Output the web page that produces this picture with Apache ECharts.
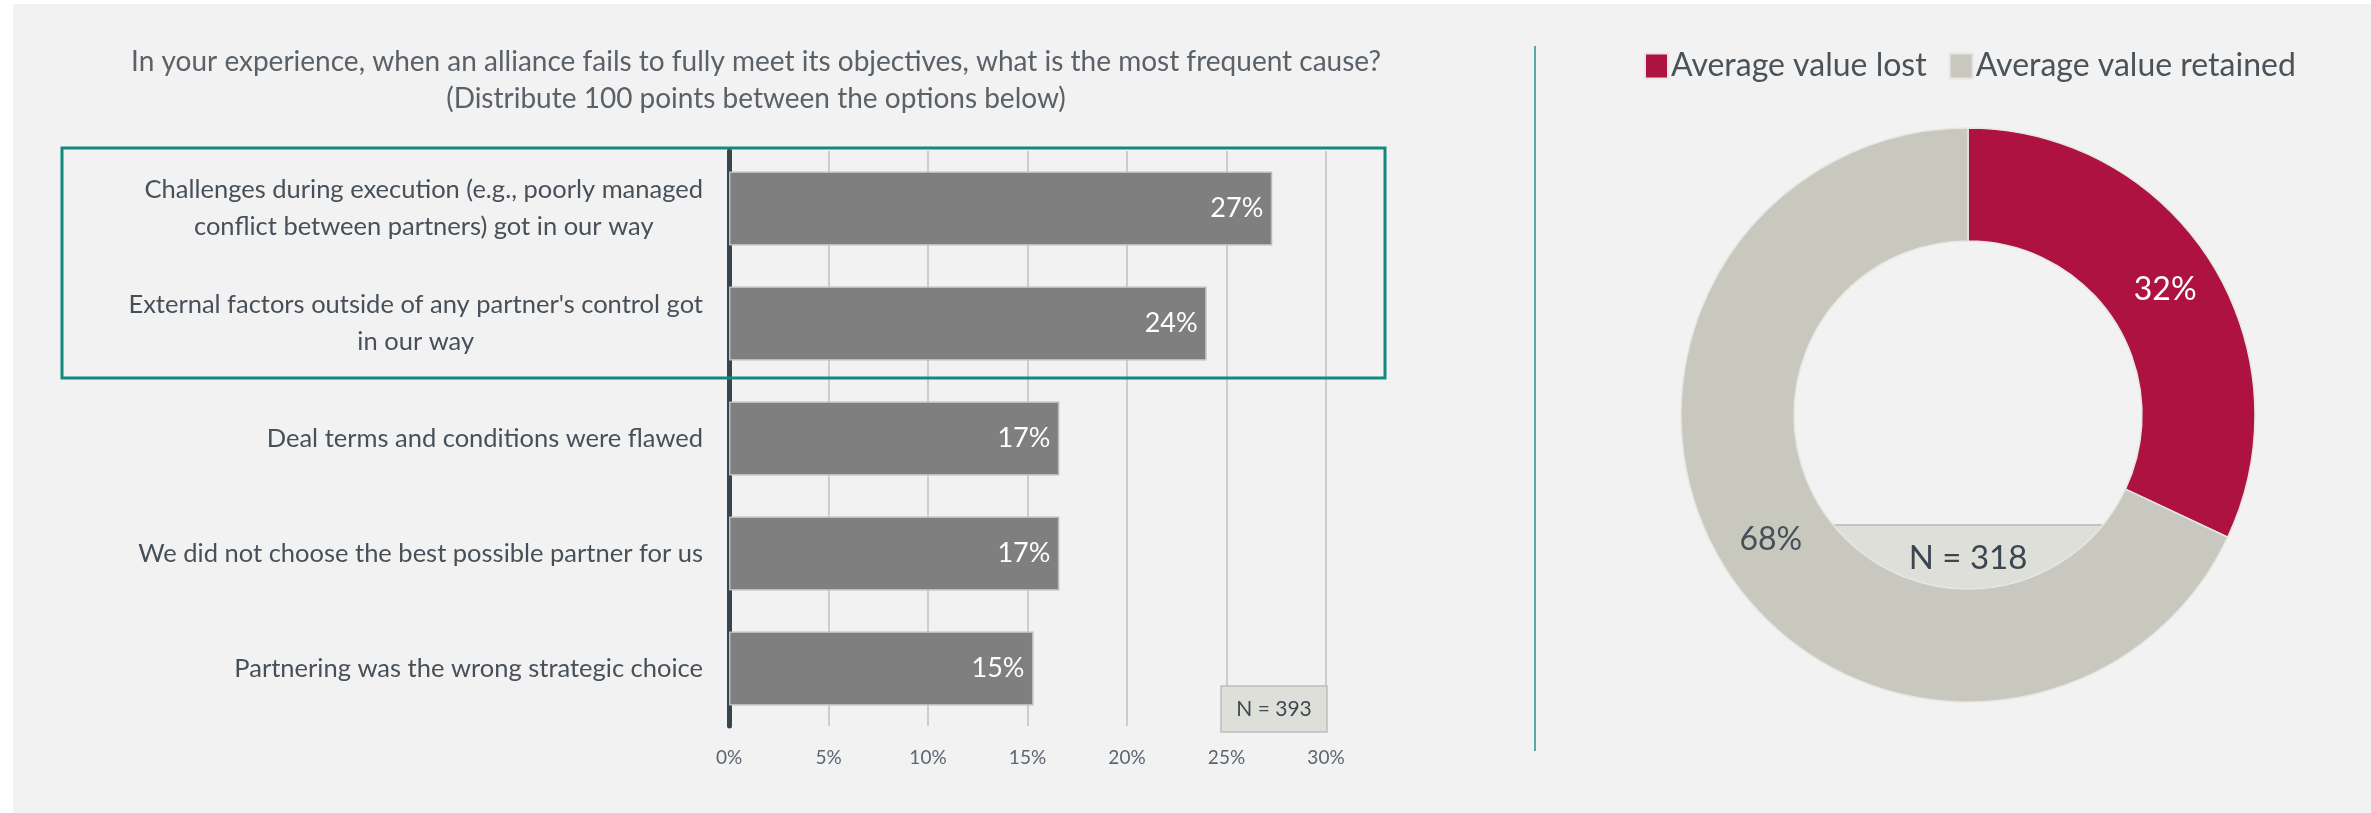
<!DOCTYPE html>
<html>
<head>
<meta charset="utf-8">
<script src="https://cdn.jsdelivr.net/npm/echarts@6/dist/echarts.min.js"></script>
<style>
  html, body { margin: 0; padding: 0; background: #ffffff; }
  #chart { width: 2371px; height: 813px; }
</style>
</head>
<body>
<div id="chart"></div>
<script>
// ---- data ----
const titleLines = [
  'In your experience, when an alliance fails to fully meet its objectives, what is the most frequent cause?',
  '(Distribute 100 points between the options below)'
];
const causes = [
  'Challenges during execution (e.g., poorly managed\nconflict between partners) got in our way',
  "External factors outside of any partner's control got\nin our way",
  'Deal terms and conditions were flawed',
  'We did not choose the best possible partner for us',
  'Partnering was the wrong strategic choice'
];
const causeShares = [27.3, 24.0, 16.6, 16.6, 15.3];
const barSampleLabel = 'N = 393';
const xTicks = { min: 0, max: 30, interval: 5 };

const valueNames = ['Average value lost', 'Average value retained'];
const valueShares = [32, 68];
const donutSampleLabel = 'N = 318';

// ---- style ----
const FONT = 'Lato, "Noto Sans", sans-serif';
const RED = '#ae1240';
const GREY = '#c8c8bf';
const TEAL = '#0f8a7c';

const chart = echarts.init(document.getElementById('chart'), null, { renderer: 'canvas' });

const option = {
  backgroundColor: '#f2f2f2',
  animation: false,
  textStyle: { fontFamily: FONT },
  title: {
    text: titleLines.join('\n'),
    left: 751,
    top: 38,
    textAlign: 'center',
    textStyle: { fontFamily: FONT, fontSize: 28, lineHeight: 37, color: '#5a6168', fontWeight: 'normal' }
  },
  legend: {
    data: valueNames,
    left: 1639,
    top: 45,
    itemWidth: 23,
    itemHeight: 25,
    itemGap: 22,
    icon: 'rect',
    textStyle: { fontFamily: FONT, fontSize: 32, color: '#4a535a', padding: [0, 0, 0, -2] }
  },
  grid: { left: 729, right: 1045, top: 151, bottom: 87, containLabel: false },
  xAxis: {
    type: 'value',
    min: xTicks.min, max: xTicks.max, interval: xTicks.interval,
    axisLine: { show: false },
    axisTick: { show: false },
    splitLine: { show: true, lineStyle: { color: '#cdcdcd', width: 2 } },
    axisLabel: { formatter: '{value}%', fontFamily: FONT, fontSize: 19, color: '#5a6570', margin: 22 }
  },
  yAxis: {
    type: 'category',
    data: causes,
    inverse: true,
    axisLine: { show: true, lineStyle: { color: '#37464e', width: 5 } },
    axisTick: { show: false },
    axisLabel: {
      margin: 26,
      formatter: function (v) { return v.split('\n').map(function (l) { return '{c|' + l + '}'; }).join('\n'); },
      rich: { c: { align: 'center', fontFamily: FONT, fontSize: 25.5, lineHeight: 37, color: '#475058' } }
    }
  },
  series: [
    {
      type: 'bar',
      data: causeShares,
      barWidth: 74,
      z: 3,
      itemStyle: { color: '#7f7f7f', borderColor: '#bcbcbc', borderWidth: 1.5 },
      label: {
        show: true, position: 'insideRight', distance: 9,
        formatter: function (p) { return Math.round(p.value) + '%'; },
        color: '#ffffff', fontFamily: FONT, fontSize: 27
      }
    },
    {
      type: 'pie',
      center: [1968, 415],
      radius: [174, 287],
      startAngle: 90,
      clockwise: true,
      z: 3,
      data: valueNames.map(function (n, i) { return { name: n, value: valueShares[i] }; }),
      color: [RED, GREY],
      itemStyle: { borderColor: '#e6e6e2', borderWidth: 1.5 },
      label: {
        show: true, position: 'inside',
        formatter: '{c}%',
        fontFamily: FONT, fontSize: 32
      },
      labelLine: { show: false },
      emphasis: { disabled: true }
    }
  ],
  graphic: [
    // white page margins
    { type: 'rect', left: 0, top: 0, shape: { width: 13, height: 813 }, style: { fill: '#ffffff' }, z: 100 },
    { type: 'rect', left: 0, top: 0, shape: { width: 2371, height: 4 }, style: { fill: '#ffffff' }, z: 100 },
    // highlight box
    { type: 'rect', x: 62, y: 148, shape: { width: 1323, height: 230 }, style: { fill: 'none', stroke: TEAL, lineWidth: 3 }, z: 50 },
    // separator
    { type: 'line', shape: { x1: 1535, y1: 46, x2: 1535, y2: 751 }, style: { stroke: '#2b8f83', lineWidth: 1.5 }, z: 50 },
    // N = 393 box
    { type: 'rect', x: 1221, y: 686, shape: { width: 106, height: 46 }, style: { fill: '#dfdfd9', stroke: '#bdbdbd', lineWidth: 1.5 }, z: 40 },
    { type: 'text', x: 1274, y: 709, style: { text: barSampleLabel, fill: '#3d4850', fontFamily: FONT, fontSize: 21, textAlign: 'center', textVerticalAlign: 'middle' }, z: 41 },
    // N = 318 box inside donut hole (behind ring)
    { type: 'rect', x: 1832, y: 525, shape: { width: 272, height: 120 }, style: { fill: '#dfdfd9', stroke: '#b8b8b8', lineWidth: 1.5 }, z: 0 },
    { type: 'text', x: 1968, y: 558, style: { text: donutSampleLabel, fill: '#3c4650', fontFamily: FONT, fontSize: 33, textAlign: 'center', textVerticalAlign: 'middle' }, z: 1 }
  ]
};

// label colours per slice
option.series[1].data[0].label = { color: '#ffffff' };
option.series[1].data[1].label = { color: '#44505a' };

chart.setOption(option);
</script>
</body>
</html>
